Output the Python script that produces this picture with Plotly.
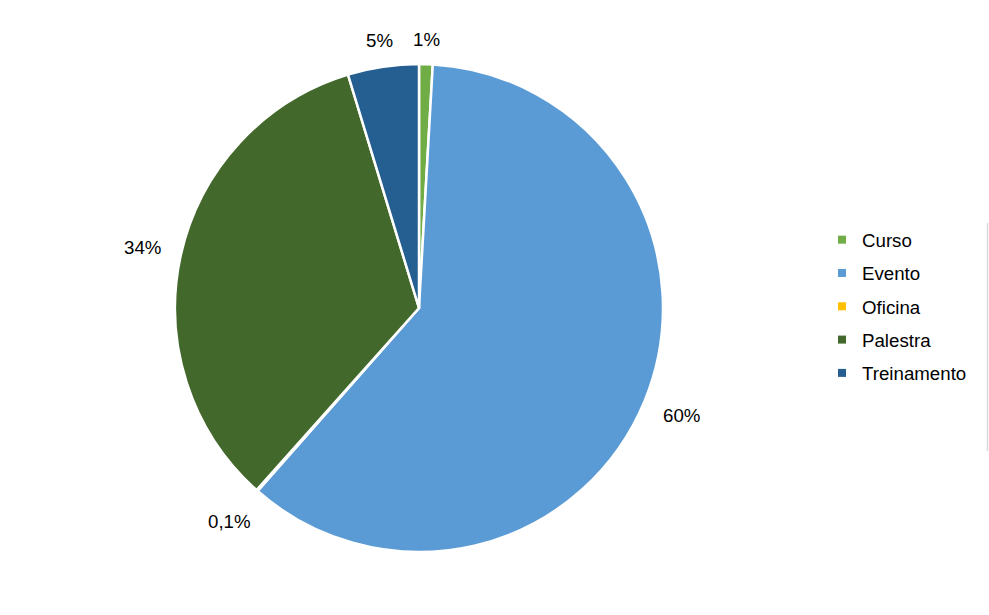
import math
import plotly.graph_objects as go

# ---- data ----
categories = ["Curso", "Evento", "Oficina", "Palestra", "Treinamento"]
values = [0.9, 60.6, 0.1, 33.7, 4.7]
value_labels = ["1%", "60%", "0,1%", "34%", "5%"]
colors = ["#70AD47", "#5B9BD5", "#FFC000", "#43682B", "#255E91"]

W, H = 989, 615
CX, CY, R = 419, 308, 244
FONT = "Liberation Sans, Arial, sans-serif"
FS = 18.7

fig = go.Figure()
fig.add_trace(go.Pie(
    labels=categories, values=values, sort=False, direction="clockwise",
    rotation=0, marker=dict(colors=colors, line=dict(color="white", width=2.5)),
    textinfo="none", hoverinfo="label+percent", showlegend=False,
    domain=dict(x=[(CX - R) / W, (CX + R) / W], y=[1 - (CY + R) / H, 1 - (CY - R) / H]),
))

# legend entries (one group per category for spacing)
for name, col in zip(categories, colors):
    fig.add_trace(go.Scatter(
        x=[None], y=[None], mode="markers", name=name, legendgroup=name,
        marker=dict(symbol="square", size=8, color=col), showlegend=True,
    ))

# outside labels placed from the cumulative slice angles
char_w = {"%": 0.889, ",": 0.278}
def text_width(t):
    return sum(char_w.get(c, 0.556) for c in t) * FS

total = sum(values)
cum = 0.0
for v, lab in zip(values, value_labels):
    mid = (cum + v / 2) / total * 2 * math.pi
    cum += v
    ux, uy = math.sin(mid), -math.cos(mid)
    diag = abs(ux * uy)
    r = R + 17 + 10 * diag + abs(ux) * text_width(lab) / 2 + abs(uy) * 6.5
    px, py = CX + r * ux, CY + r * uy
    fig.add_annotation(
        x=px / W, y=1 - py / H, xref="paper", yref="paper", text=lab,
        showarrow=False, xanchor="center", yanchor="middle",
        font=dict(family=FONT, size=FS, color="#000000"),
    )

fig.add_shape(type="line", xref="paper", yref="paper",
              x0=987.5 / W, x1=987.5 / W,
              y0=1 - 223 / H, y1=1 - 451 / H,
              line=dict(color="#D9D9D9", width=1.5))

fig.update_layout(
    width=W, height=H, margin=dict(l=0, r=0, t=0, b=0),
    paper_bgcolor="white", plot_bgcolor="white",
    xaxis=dict(visible=False), yaxis=dict(visible=False),
    font=dict(family=FONT, size=FS, color="#000000"),
    legend=dict(x=(862 - 40) / W, y=1 - 306.5 / H,
                xanchor="left", yanchor="middle",
                tracegroupgap=6, font=dict(family=FONT, size=FS, color="#000000"),
                bgcolor="rgba(0,0,0,0)"),
)

fig.write_html("out.html", config={"displayModeBar": False},
               post_script="document.body.style.margin='0';document.body.style.overflow='hidden';")
